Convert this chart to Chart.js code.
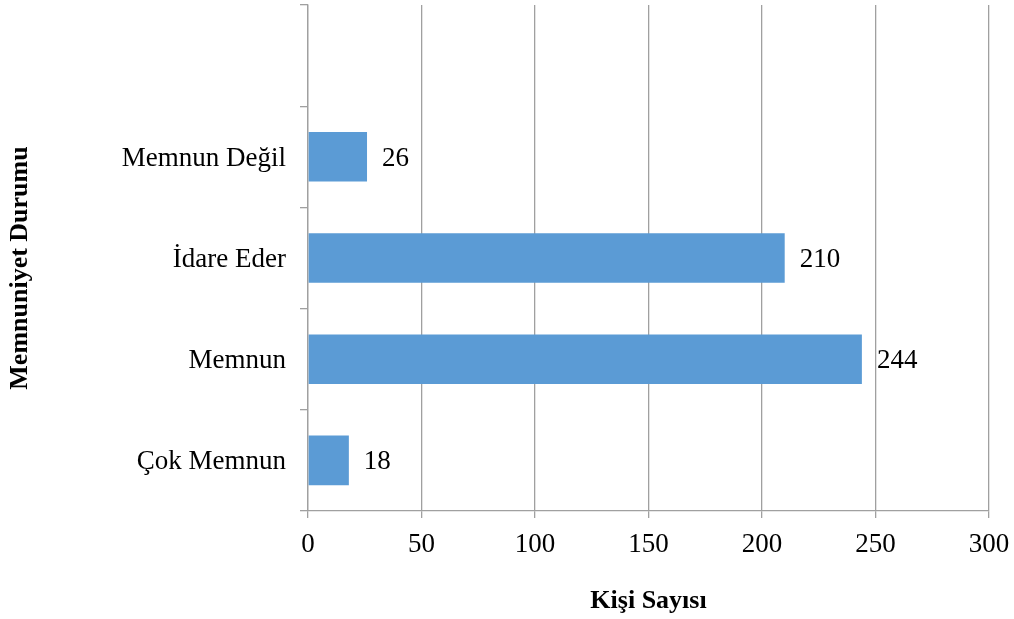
<!DOCTYPE html>
<html>
<head>
<meta charset="utf-8">
<script src="https://cdn.jsdelivr.net/npm/chart.js@4.4.1/dist/chart.umd.min.js"></script>
<style>
  html, body { margin: 0; padding: 0; background: #fff; }
  #chart { display: block; }
</style>
</head>
<body>
<canvas id="chart" width="1014" height="619"></canvas>
<script>
// Memnuniyet durumu - kişi sayısı (top slot is empty in the original)
const categories = ['', 'Memnun Değil', 'İdare Eder', 'Memnun', 'Çok Memnun'];
const counts = [null, 26, 210, 244, 18];
const xTicks = [0, 50, 100, 150, 200, 250, 300];
const yTitle = 'Memnuniyet Durumu';

const GRID = '#a0a0a0';
const FONT = '"Liberation Serif", "Times New Roman", serif';

// Value labels to the right of each bar, plus the rotated y title
const barLabels = {
  id: 'barLabels',
  afterDatasetsDraw(chart) {
    const ctx = chart.ctx;
    const meta = chart.getDatasetMeta(0);
    ctx.save();
    ctx.font = '27px ' + FONT;
    ctx.fillStyle = '#000';
    ctx.textAlign = 'left';
    ctx.textBaseline = 'middle';
    meta.data.forEach((bar, i) => {
      if (counts[i] == null) return;
      ctx.fillText(String(counts[i]), bar.x + 15, bar.y + 2);
    });
    ctx.restore();

    // y title sits a bit below the plot centre in the original
    const area = chart.chartArea;
    ctx.save();
    ctx.font = 'bold 26px ' + FONT;
    ctx.fillStyle = '#000';
    ctx.textAlign = 'center';
    ctx.textBaseline = 'middle';
    ctx.translate(20, (area.top + area.bottom) / 2 + 10);
    ctx.rotate(-Math.PI / 2);
    ctx.fillText(yTitle, 0, 0);
    ctx.restore();
  },
};

new Chart(document.getElementById('chart').getContext('2d'), {
  type: 'bar',
  data: {
    labels: categories,
    datasets: [{
      data: counts,
      backgroundColor: '#5b9bd5',
      borderWidth: 0,
      barPercentage: 1,
      categoryPercentage: 0.49,
    }],
  },
  options: {
    indexAxis: 'y',
    responsive: false,
    animation: false,
    layout: { padding: { top: 5, right: 25, left: 0, bottom: 0 } },
    plugins: { legend: { display: false }, tooltip: { enabled: false } },
    scales: {
      x: {
        min: 0,
        max: 300,
        afterBuildTicks: (scale) => { scale.ticks = xTicks.map((v) => ({ value: v })); },
        afterFit: (scale) => {
          scale.height = 108;
          scale.paddingLeft = 0;
          scale.paddingRight = 0;
        },
        ticks: { color: '#000', font: { family: FONT, size: 27 }, padding: 11, maxRotation: 0 },
        grid: { color: GRID, lineWidth: 1.3, tickLength: 7 },
        border: { color: GRID, width: 1.3 },
        title: {
          display: true,
          text: 'Kişi Sayısı',
          color: '#000',
          font: { family: FONT, size: 26, weight: 'bold' },
          padding: { top: 4, bottom: 2 },
        },
      },
      y: {
        afterFit: (scale) => {
          scale.width = 308;
          scale.paddingTop = 0;
          scale.paddingBottom = 0;
        },
        ticks: { color: '#000', font: { family: FONT, size: 27 }, padding: 14, labelOffset: 2 },
        grid: { color: GRID, lineWidth: 1.3, offset: true, drawOnChartArea: false, tickLength: 8 },
        border: { color: GRID, width: 1.3 },
        title: { display: false },
      },
    },
  },
  plugins: [barLabels],
});
</script>
</body>
</html>
